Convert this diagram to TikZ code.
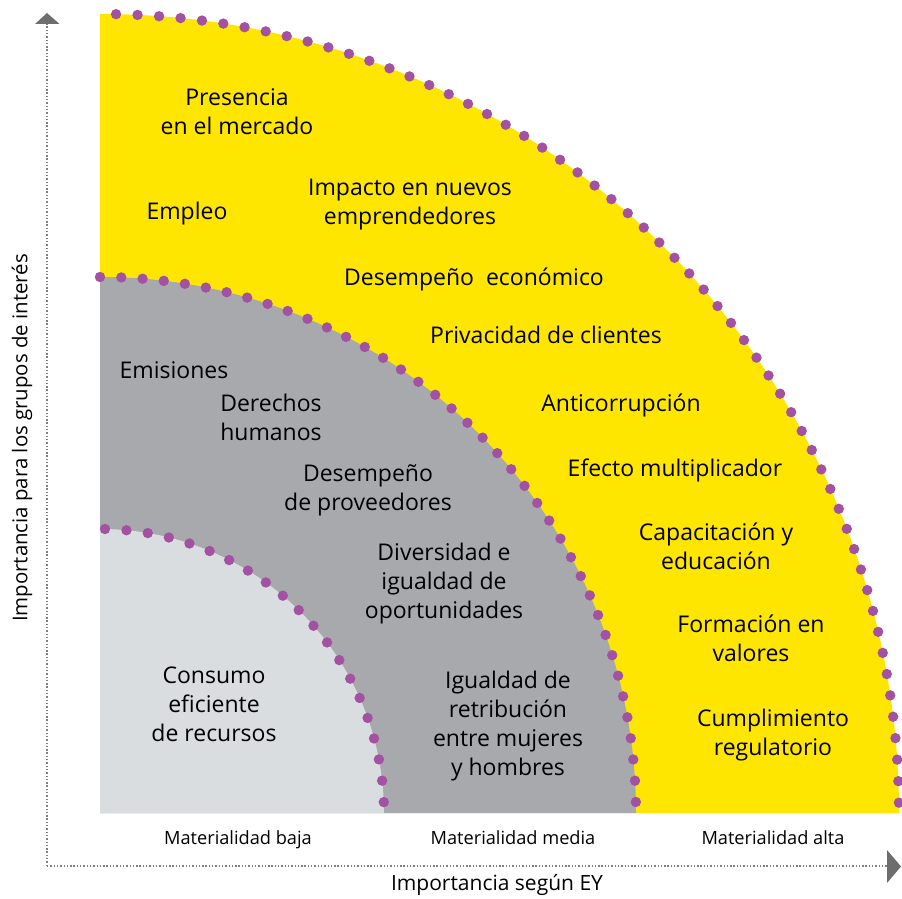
\documentclass[tikz,border=0pt]{standalone}
\usepackage{fontspec}
\setmainfont{Open Sans}
\begin{document}
\begin{tikzpicture}[x=1pt,y=1pt,
  lbl/.style={align=center,inner sep=0pt,font=\fontsize{23}{29}\selectfont},
  small/.style={inner sep=0pt,font=\fontsize{18.2}{20}\selectfont},
  axlbl/.style={inner sep=0pt,font=\fontsize{21}{24}\selectfont},
  dotc/.style={fill=dotpurple},
  axisline/.style={draw=axgray,line width=1.4pt,dash pattern=on 1.4pt off 1.9pt}]
\definecolor{eyyellow}{HTML}{FFE600}
\definecolor{midgray}{HTML}{A7A9AC}
\definecolor{lightgray}{HTML}{D9DDE0}
\definecolor{dotpurple}{HTML}{A352A3}
\definecolor{axgray}{HTML}{7F7F7F}
\definecolor{arrowgray}{HTML}{6D6D6D}
\useasboundingbox (0,0) rectangle (902,898);
\coordinate (C) at (100,85);
% regions
\fill[eyyellow] (C) -- (100,884) arc[start angle=90,end angle=0,radius=799] -- cycle;
\fill[midgray] (C) -- (100,621) arc[start angle=90,end angle=0,radius=536] -- cycle;
\fill[lightgray] (C) -- (100,369) arc[start angle=90,end angle=0,radius=284] -- cycle;
% dotted borders
\foreach \i in {0,...,57} \fill[dotc] (C) ++({88.85-\i*88.11/57}:799) circle (5.2);
\foreach \i in {0,...,39} \fill[dotc] (C) ++({90-\i*88.82/39}:536) circle (5.2);
\foreach \i in {0,...,20} \fill[dotc] (C) ++({88.99-\i*86.79/20}:284) circle (5.2);
% axes
\coordinate (O) at (47,32);
\coordinate (ytop) at (47,874);
\coordinate (xend) at (887,32);
\draw[axisline] (O) -- (ytop);
\draw[axisline] (O) -- (xend);
\fill[arrowgray] (35,874) -- (47,885) -- (59.5,874) -- cycle;
\fill[arrowgray] (887,48) -- (901,31.5) -- (887,15) -- cycle;
% labels
\node[lbl] (n1) at (237,786.5) {Presencia\\en el mercado};
\node[lbl] (n2) at (187,684) {Empleo};
\node[lbl] (n3) at (410,693) {Impacto en nuevos\\emprendedores};
\node[lbl] (n4) at (474,619) {Desempeño\ \ económico};
\node[lbl] (n5) at (546,563) {Privacidad de clientes};
\node[lbl] (n6) at (174,528) {Emisiones};
\node[lbl] (n7) at (271,480.5) {Derechos\\humanos};
\node[lbl] (n8) at (621,493) {Anticorrupción};
\node[lbl] (n9) at (368,407.5) {Desempeño\\de proveedores};
\node[lbl] (n10) at (675,428) {Efecto multiplicador};
\node[lbl] (n11) at (716,351.5) {Capacitación y\\educación};
\node[lbl] (n12) at (444,314) {Diversidad e\\igualdad de\\oportunidades};
\node[lbl] (n13) at (751,260) {Formación en\\valores};
\node[lbl] (n14) at (214,194) {Consumo\\eficiente\\de recursos};
\node[lbl] (n15) at (508,172) {Igualdad de\\retribución\\entre mujeres\\y hombres};
\node[lbl] (n16) at (773,162.5) {Cumplimiento\\regulatorio};
\node[small] (b1) at (238,58) {Materialidad baja};
\node[small] (b2) at (513,60) {Materialidad media};
\node[small] (b3) at (773,60) {Materialidad alta};
\node[axlbl] (xl) at (497,13) {Importancia según EY};
\node[axlbl,rotate=90,font=\fontsize{20.4}{24}\selectfont] (yl) at (22,460) {Importancia para los grupos de interés};
\end{tikzpicture}
\end{document}
